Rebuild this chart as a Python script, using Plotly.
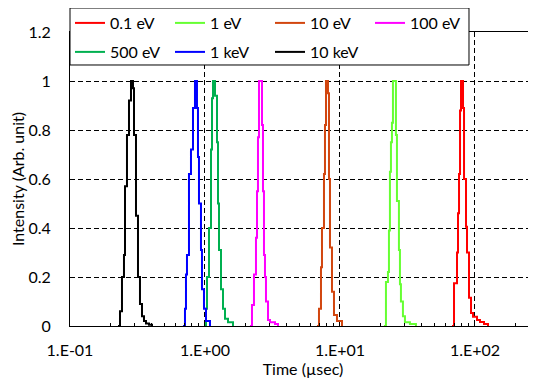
import plotly.graph_objects as go

# ---- data ----
labels = ["0.1 eV", "1 eV", "10 eV", "100 eV", "500 eV", "1 keV", "10 keV"]
colors = ["#FF0000", "#66FF33", "#D2460F", "#FF00FF", "#00B050", "#0000FF", "#000000"]

t_01eV = [67.59, 69.93, 73.60, 74.87, 76.16, 77.47, 78.80, 81.53, 82.94, 85.81, 87.29, 90.32, 93.46, 96.70, 103.52, 108.96, 116.66, 124.88]
i_01eV = [0, 0.175, 0.30, 0.46, 0.62, 0.88, 1.0, 0.89, 0.60, 0.405, 0.30, 0.115, 0.053, 0.038, 0.025, 0.016, 0.008, 0]

t_1eV = [21.16, 21.90, 22.66, 23.05, 23.44, 23.85, 24.26, 24.68, 25.97, 26.42, 27.33, 27.81, 28.28, 29.26, 30.28, 32.97, 36.53]
i_1eV = [0, 0.18, 0.22, 0.39, 0.63, 0.75, 0.83, 1.0, 0.78, 0.51, 0.31, 0.17, 0.10, 0.04, 0.015, 0.008, 0]

t_10eV = [6.754, 6.988, 7.231, 7.355, 7.610, 7.742, 7.875, 8.148, 8.288, 8.431, 8.723, 9.026, 9.500, 10.345]
i_10eV = [0, 0.07, 0.24, 0.40, 0.62, 0.82, 1.0, 0.95, 0.60, 0.32, 0.14, 0.045, 0.02, 0]

t_100eV = [2.154, 2.229, 2.306, 2.386, 2.428, 2.469, 2.512, 2.644, 2.689, 2.735, 2.782, 2.830, 2.929, 3.030, 3.300, 3.473]
i_100eV = [0, 0.086, 0.21, 0.36, 0.55, 0.77, 1.0, 0.82, 0.55, 0.29, 0.20, 0.10, 0.025, 0.015, 0.008, 0]

t_500eV = [0.9832, 1.0172, 1.0347, 1.0706, 1.1078, 1.1269, 1.1463, 1.1861, 1.2272, 1.2483, 1.2698, 1.3139, 1.3594, 1.4067, 1.4805, 1.6122]
i_500eV = [0, 0.07, 0.20, 0.40, 0.72, 0.93, 1.0, 0.94, 0.75, 0.50, 0.31, 0.15, 0.07, 0.03, 0.015, 0]

t_1keV = [0.6870, 0.7108, 0.7230, 0.7354, 0.7610, 0.7874, 0.8148, 0.8430, 0.8723, 0.8873, 0.9025, 0.9339, 0.9499, 0.9829, 1.0170, 1.0887]
i_1keV = [0, 0.07, 0.21, 0.29, 0.62, 0.72, 0.89, 1.0, 0.89, 0.69, 0.50, 0.31, 0.15, 0.07, 0.02, 0]

t_10keV = [0.2267, 0.2346, 0.2427, 0.2511, 0.2555, 0.2643, 0.2735, 0.2830, 0.2928, 0.2979, 0.3082, 0.3189, 0.3299, 0.3414, 0.3532, 0.3655, 0.3847, 0.4049]
i_10keV = [0, 0.06, 0.20, 0.29, 0.57, 0.78, 0.92, 1.0, 0.97, 0.78, 0.45, 0.20, 0.09, 0.04, 0.02, 0.01, 0.005, 0]

x_tickvals = [0.1, 1, 10, 100]
x_ticktext = ["1.E-01", "1.E+00", "1.E+01", "1.E+02"]
x_minor = [0.2, 0.3, 0.4, 0.5, 0.6, 0.7, 0.8, 0.9, 2, 3, 4, 5, 6, 7, 8, 9,
           20, 30, 40, 50, 60, 70, 80, 90, 200]
y_tickvals = [0, 0.2, 0.4, 0.6, 0.8, 1.0, 1.2]

series = [
    (t_01eV, i_01eV), (t_1eV, i_1eV), (t_10eV, i_10eV), (t_100eV, i_100eV),
    (t_500eV, i_500eV), (t_1keV, i_1keV), (t_10keV, i_10keV),
]

FONT = "Lato"
fig = go.Figure()
for k, ((t, v), name, col) in enumerate(zip(series, labels, colors)):
    fig.add_trace(go.Scatter(
        x=t, y=v, name=name, mode="lines",
        line=dict(color=col, width=2, shape="hv"),
        legend="legend" if k < 4 else "legend2",
    ))

leg_common = dict(
    orientation="h", xanchor="left", yanchor="middle",
    bgcolor="rgba(0,0,0,0)", borderwidth=0,
    font=dict(family=FONT, size=16, color="#000000"),
    entrywidth=55, entrywidthmode="pixels",
    traceorder="normal",
)

# page body has an 8px margin; figure is sized/margined to compensate
fig.update_layout(
    width=528, height=377,
    margin=dict(l=62, r=0, t=24, b=59, autoexpand=False),
    paper_bgcolor="white", plot_bgcolor="white",
    font=dict(family=FONT, size=16, color="#000000"),
    showlegend=True,
    legend=dict(x=0.0, y=1.0306, **leg_common),
    legend2=dict(x=0.0, y=0.932, **leg_common),
    xaxis=dict(
        type="log", range=[-1, 2.452], automargin=False,
        tickmode="array", tickvals=x_tickvals, ticktext=x_ticktext,
        ticks="inside", ticklen=3, tickcolor="#000000",
        minor=dict(tickmode="array", tickvals=x_minor, ticks="inside",
                   ticklen=3, tickcolor="#000000", showgrid=False),
        showgrid=True, gridcolor="#000000", griddash="5px,3px", gridwidth=1,
        showline=True, linecolor="#000000", linewidth=1, mirror=True,
        zeroline=False,
        tickfont=dict(family=FONT, size=16, color="#000000"),
        ticklabelstandoff=10,
        title=dict(text="Time (µsec)", font=dict(family=FONT, size=16), standoff=4),
    ),
    yaxis=dict(
        range=[0, 1.2], tickmode="array", tickvals=y_tickvals, automargin=False,
        ticks="", showgrid=True, gridcolor="#000000", griddash="5px,3px", gridwidth=1,
        showline=True, linecolor="#000000", linewidth=1, mirror=False,
        zeroline=False,
        tickfont=dict(family=FONT, size=16, color="#000000"),
        ticklabelstandoff=15,
        title=dict(text="Intensity (Arb. unit)", font=dict(family=FONT, size=16), standoff=4),
    ),
    shapes=[dict(
        type="rect", xref="paper", yref="paper",
        x0=0.0, x1=0.8562, y0=0.8878, y1=1.0816,
        line=dict(color="#000000", width=1), fillcolor="white", layer="above",
    )],
)

fig.write_html("out.html")
